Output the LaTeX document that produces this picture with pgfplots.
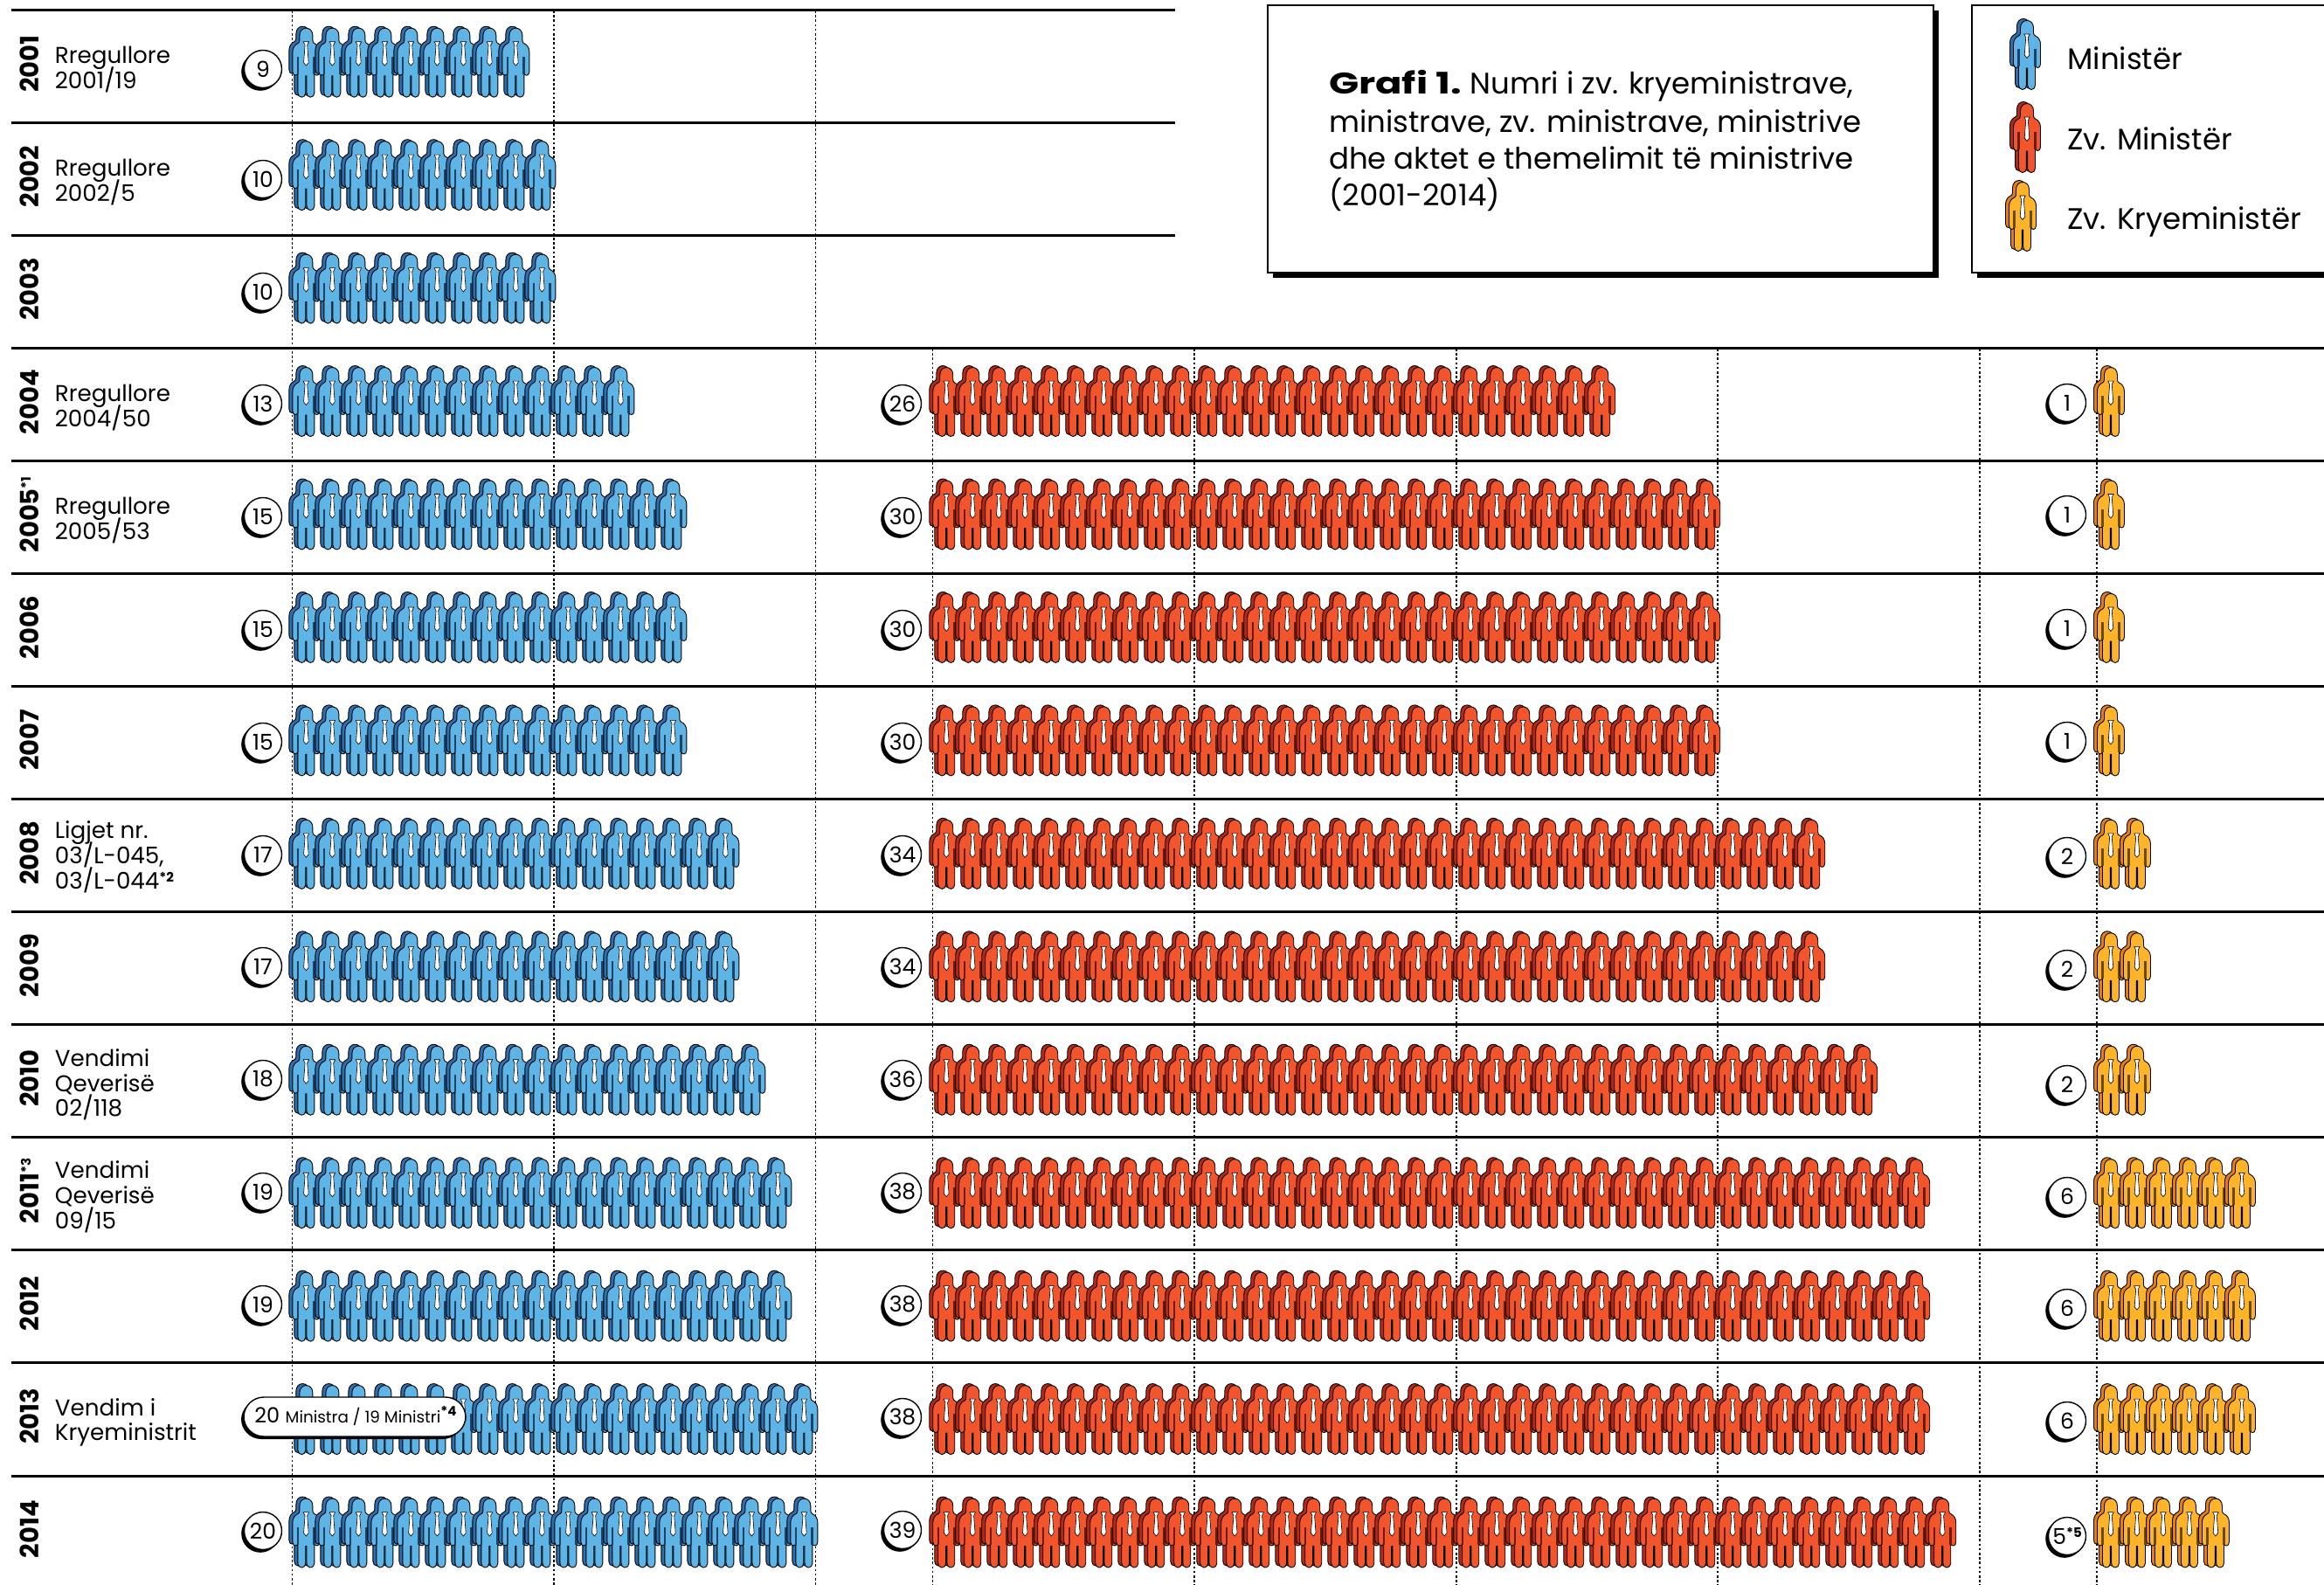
\documentclass[border=0pt]{standalone}
\usepackage{fontspec}
\setmainfont{Poppins}
\usepackage{graphicx}
\usepackage{pgfplots}
\pgfplotsset{compat=1.18}

% colours: body, offset shade, slits between arms and body
\definecolor{minB}{HTML}{5FB4E6}\definecolor{minD}{HTML}{2F6FAE}\definecolor{minS}{HTML}{1D4468}
\definecolor{zmB}{HTML}{F2552B}\definecolor{zmD}{HTML}{B32A12}\definecolor{zmS}{HTML}{6A1C0C}
\definecolor{zkB}{HTML}{FDB42B}\definecolor{zkD}{HTML}{E57F12}\definecolor{zkS}{HTML}{6B4A10}

% one person, 1 unit = 1 px of the reference = 0.5pt
\def\personpath{(-7.5,31) .. controls (-7.5,36.5) and (-4,39.5) .. (0,39.5) .. controls (4,39.5) and (7.5,36.5) .. (7.5,31)
  -- (7.5,25.5) .. controls (7.5,23.5) and (8.5,22.5) .. (9.5,22) .. controls (13,20.5) and (15.5,17) .. (15.5,12)
  -- (15.5,-10) .. controls (15.5,-13) and (14,-14.5) .. (12.5,-14.5) .. controls (11,-14.5) and (9.8,-13.5) .. (9.5,-12)
  -- (9.5,-34.5) .. controls (9.5,-37.5) and (7.5,-39.5) .. (5,-39.5) .. controls (2.6,-39.5) and (0.6,-37.5) .. (0.6,-34.5)
  -- (0.6,-15) -- (-0.6,-15) -- (-0.6,-34.5) .. controls (-0.6,-37.5) and (-2.6,-39.5) .. (-5,-39.5) .. controls (-7.5,-39.5) and (-9.5,-37.5) .. (-9.5,-34.5)
  -- (-9.5,-12) .. controls (-9.8,-13.5) and (-11,-14.5) .. (-12.5,-14.5) .. controls (-14,-14.5) and (-15.5,-13) .. (-15.5,-10)
  -- (-15.5,12) .. controls (-15.5,17) and (-13,20.5) .. (-9.5,22) .. controls (-8.5,22.5) and (-7.5,23.5) .. (-7.5,25.5) -- cycle}
\newcommand\personmark[3]{%
  \begin{scope}[x=0.5pt,y=0.5pt,line width=0.45pt,line join=round]
    \pgfscope
      \pgftransformshift{\pgfpoint{-2pt}{1pt}}
      \draw[draw=black,fill=#2] \personpath;
    \endpgfscope
    \draw[draw=black,fill=#1] \personpath;
    \draw[#3,line width=1.3pt] (9.3,7) -- (9.3,-13) (-9.3,7) -- (-9.3,-13);
    \draw[draw=black,fill=white,line width=0.3pt] (-3.3,24) -- (3.3,24) -- (1.3,20) -- (2.8,0) -- (0,-3.5) -- (-2.8,0) -- (-1.3,20) -- cycle;
  \end{scope}}
\pgfdeclareplotmark{minister}{\personmark{minB}{minD}{minS}}
\pgfdeclareplotmark{zvminister}{\personmark{zmB}{zmD}{zmS}}
\pgfdeclareplotmark{zvkrye}{\personmark{zkB}{zkD}{zkS}}

\pgfplotsset{
  page/.style={hide axis,scale only axis,width=1330pt,height=907pt,at={(0,0)},anchor=south west,y dir=reverse,clip=false},
  pxaxis/.style={page,xmin=0,xmax=2660,ymin=0,ymax=1814},
  % panels: x is the person's number, y the year
  panel/.style={page,ymin=2000.4461,ymax=2014.4593},
  rule/.style={black,line width=1.5pt,forget plot},
  guide/.style={black,line width=0.6pt,dash pattern=on 1.3pt off 1.3pt,forget plot},
}
\tikzset{
  lbl/.style={anchor=base west,inner sep=0pt,yshift=-0.2pt,font=\fontsize{13.1}{16}\selectfont},
  ttl/.style={anchor=base west,inner sep=0pt,font=\fontsize{17}{20}\selectfont},
  yr/.style={rotate=90,inner sep=0pt,font=\fontsize{14.5}{16}\selectfont\bfseries},
  num/.style={circle,draw=black,fill=white,line width=0.7pt,minimum size=21.5pt,inner sep=0pt,font=\fontsize{12.5}{14}\selectfont},
}
\newcommand\fnote[1]{\raisebox{0.32em}{\fontsize{7.5}{8}\selectfont\bfseries *#1}}
\newcommand\badge[3]{\fill[black] (#1,#2) ++(-1.5pt,-1.5pt) circle[radius=10.9pt]; \node[num] at (#1,#2) {#3};}

\begin{document}
\begin{tikzpicture}
\useasboundingbox (0,0) rectangle (1330pt,907pt);

% rules and dashed guides
\begin{axis}[pxaxis]
  \addplot[rule] coordinates {(12.5,11.3)(1345,11.3)};
  \addplot[rule] coordinates {(12.5,140.4)(1345,140.4)};
  \addplot[rule] coordinates {(12.5,269.4)(1345,269.4)};
  \addplot[rule] coordinates {(12.5,398.5)(2660,398.5)};
  \addplot[rule] coordinates {(12.5,527.5)(2660,527.5)};
  \addplot[rule] coordinates {(12.5,656.6)(2660,656.6)};
  \addplot[rule] coordinates {(12.5,785.6)(2660,785.6)};
  \addplot[rule] coordinates {(12.5,914.7)(2660,914.7)};
  \addplot[rule] coordinates {(12.5,1043.7)(2660,1043.7)};
  \addplot[rule] coordinates {(12.5,1172.8)(2660,1172.8)};
  \addplot[rule] coordinates {(12.5,1301.8)(2660,1301.8)};
  \addplot[rule] coordinates {(12.5,1430.9)(2660,1430.9)};
  \addplot[rule] coordinates {(12.5,1559.9)(2660,1559.9)};
  \addplot[rule] coordinates {(12.5,1689)(2660,1689)};
  \addplot[guide] coordinates {(334.4,12)(334.4,1814)};
  \addplot[guide] coordinates {(634,12)(634,1814)};
  \addplot[guide] coordinates {(933.5,12)(933.5,1814)};
  \addplot[guide] coordinates {(1067.3,399)(1067.3,1814)};
  \addplot[guide] coordinates {(1367,399)(1367,1814)};
  \addplot[guide] coordinates {(1667,399)(1667,1814)};
  \addplot[guide] coordinates {(1966,399)(1966,1814)};
  \addplot[guide] coordinates {(2266,399)(2266,1814)};
  \addplot[guide] coordinates {(2400,399)(2400,1814)};
\end{axis}

% Ministër
\begin{axis}[panel,xmin=-10.68,xmax=77.9867]
  \addplot[only marks,mark=minister] coordinates {
    (1,2001)(2,2001)(3,2001)(4,2001)(5,2001)(6,2001)(7,2001)(8,2001)(9,2001)
    (1,2002)(2,2002)(3,2002)(4,2002)(5,2002)(6,2002)(7,2002)(8,2002)(9,2002)(10,2002)
    (1,2003)(2,2003)(3,2003)(4,2003)(5,2003)(6,2003)(7,2003)(8,2003)(9,2003)(10,2003)
    (1,2004)(2,2004)(3,2004)(4,2004)(5,2004)(6,2004)(7,2004)(8,2004)(9,2004)(10,2004)(11,2004)(12,2004)(13,2004)
    (1,2005)(2,2005)(3,2005)(4,2005)(5,2005)(6,2005)(7,2005)(8,2005)(9,2005)(10,2005)(11,2005)(12,2005)(13,2005)(14,2005)(15,2005)
    (1,2006)(2,2006)(3,2006)(4,2006)(5,2006)(6,2006)(7,2006)(8,2006)(9,2006)(10,2006)(11,2006)(12,2006)(13,2006)(14,2006)(15,2006)
    (1,2007)(2,2007)(3,2007)(4,2007)(5,2007)(6,2007)(7,2007)(8,2007)(9,2007)(10,2007)(11,2007)(12,2007)(13,2007)(14,2007)(15,2007)
    (1,2008)(2,2008)(3,2008)(4,2008)(5,2008)(6,2008)(7,2008)(8,2008)(9,2008)(10,2008)(11,2008)(12,2008)(13,2008)(14,2008)(15,2008)(16,2008)(17,2008)
    (1,2009)(2,2009)(3,2009)(4,2009)(5,2009)(6,2009)(7,2009)(8,2009)(9,2009)(10,2009)(11,2009)(12,2009)(13,2009)(14,2009)(15,2009)(16,2009)(17,2009)
    (1,2010)(2,2010)(3,2010)(4,2010)(5,2010)(6,2010)(7,2010)(8,2010)(9,2010)(10,2010)(11,2010)(12,2010)(13,2010)(14,2010)(15,2010)(16,2010)(17,2010)(18,2010)
    (1,2011)(2,2011)(3,2011)(4,2011)(5,2011)(6,2011)(7,2011)(8,2011)(9,2011)(10,2011)(11,2011)(12,2011)(13,2011)(14,2011)(15,2011)(16,2011)(17,2011)(18,2011)(19,2011)
    (1,2012)(2,2012)(3,2012)(4,2012)(5,2012)(6,2012)(7,2012)(8,2012)(9,2012)(10,2012)(11,2012)(12,2012)(13,2012)(14,2012)(15,2012)(16,2012)(17,2012)(18,2012)(19,2012)
    (1,2013)(2,2013)(3,2013)(4,2013)(5,2013)(6,2013)(7,2013)(8,2013)(9,2013)(10,2013)(11,2013)(12,2013)(13,2013)(14,2013)(15,2013)(16,2013)(17,2013)(18,2013)(19,2013)(20,2013)
    (1,2014)(2,2014)(3,2014)(4,2014)(5,2014)(6,2014)(7,2014)(8,2014)(9,2014)(10,2014)(11,2014)(12,2014)(13,2014)(14,2014)(15,2014)(16,2014)(17,2014)(18,2014)(19,2014)(20,2014)
  };
\end{axis}

% Zv. Ministër
\begin{axis}[panel,xmin=-35.11,xmax=53.5567]
  \addplot[only marks,mark=zvminister] coordinates {
    (1,2004)(2,2004)(3,2004)(4,2004)(5,2004)(6,2004)(7,2004)(8,2004)(9,2004)(10,2004)(11,2004)(12,2004)(13,2004)(14,2004)(15,2004)(16,2004)(17,2004)(18,2004)(19,2004)(20,2004)(21,2004)(22,2004)(23,2004)(24,2004)(25,2004)(26,2004)
    (1,2005)(2,2005)(3,2005)(4,2005)(5,2005)(6,2005)(7,2005)(8,2005)(9,2005)(10,2005)(11,2005)(12,2005)(13,2005)(14,2005)(15,2005)(16,2005)(17,2005)(18,2005)(19,2005)(20,2005)(21,2005)(22,2005)(23,2005)(24,2005)(25,2005)(26,2005)(27,2005)(28,2005)(29,2005)(30,2005)
    (1,2006)(2,2006)(3,2006)(4,2006)(5,2006)(6,2006)(7,2006)(8,2006)(9,2006)(10,2006)(11,2006)(12,2006)(13,2006)(14,2006)(15,2006)(16,2006)(17,2006)(18,2006)(19,2006)(20,2006)(21,2006)(22,2006)(23,2006)(24,2006)(25,2006)(26,2006)(27,2006)(28,2006)(29,2006)(30,2006)
    (1,2007)(2,2007)(3,2007)(4,2007)(5,2007)(6,2007)(7,2007)(8,2007)(9,2007)(10,2007)(11,2007)(12,2007)(13,2007)(14,2007)(15,2007)(16,2007)(17,2007)(18,2007)(19,2007)(20,2007)(21,2007)(22,2007)(23,2007)(24,2007)(25,2007)(26,2007)(27,2007)(28,2007)(29,2007)(30,2007)
    (1,2008)(2,2008)(3,2008)(4,2008)(5,2008)(6,2008)(7,2008)(8,2008)(9,2008)(10,2008)(11,2008)(12,2008)(13,2008)(14,2008)(15,2008)(16,2008)(17,2008)(18,2008)(19,2008)(20,2008)(21,2008)(22,2008)(23,2008)(24,2008)(25,2008)(26,2008)(27,2008)(28,2008)(29,2008)(30,2008)(31,2008)(32,2008)(33,2008)(34,2008)
    (1,2009)(2,2009)(3,2009)(4,2009)(5,2009)(6,2009)(7,2009)(8,2009)(9,2009)(10,2009)(11,2009)(12,2009)(13,2009)(14,2009)(15,2009)(16,2009)(17,2009)(18,2009)(19,2009)(20,2009)(21,2009)(22,2009)(23,2009)(24,2009)(25,2009)(26,2009)(27,2009)(28,2009)(29,2009)(30,2009)(31,2009)(32,2009)(33,2009)(34,2009)
    (1,2010)(2,2010)(3,2010)(4,2010)(5,2010)(6,2010)(7,2010)(8,2010)(9,2010)(10,2010)(11,2010)(12,2010)(13,2010)(14,2010)(15,2010)(16,2010)(17,2010)(18,2010)(19,2010)(20,2010)(21,2010)(22,2010)(23,2010)(24,2010)(25,2010)(26,2010)(27,2010)(28,2010)(29,2010)(30,2010)(31,2010)(32,2010)(33,2010)(34,2010)(35,2010)(36,2010)
    (1,2011)(2,2011)(3,2011)(4,2011)(5,2011)(6,2011)(7,2011)(8,2011)(9,2011)(10,2011)(11,2011)(12,2011)(13,2011)(14,2011)(15,2011)(16,2011)(17,2011)(18,2011)(19,2011)(20,2011)(21,2011)(22,2011)(23,2011)(24,2011)(25,2011)(26,2011)(27,2011)(28,2011)(29,2011)(30,2011)(31,2011)(32,2011)(33,2011)(34,2011)(35,2011)(36,2011)(37,2011)(38,2011)
    (1,2012)(2,2012)(3,2012)(4,2012)(5,2012)(6,2012)(7,2012)(8,2012)(9,2012)(10,2012)(11,2012)(12,2012)(13,2012)(14,2012)(15,2012)(16,2012)(17,2012)(18,2012)(19,2012)(20,2012)(21,2012)(22,2012)(23,2012)(24,2012)(25,2012)(26,2012)(27,2012)(28,2012)(29,2012)(30,2012)(31,2012)(32,2012)(33,2012)(34,2012)(35,2012)(36,2012)(37,2012)(38,2012)
    (1,2013)(2,2013)(3,2013)(4,2013)(5,2013)(6,2013)(7,2013)(8,2013)(9,2013)(10,2013)(11,2013)(12,2013)(13,2013)(14,2013)(15,2013)(16,2013)(17,2013)(18,2013)(19,2013)(20,2013)(21,2013)(22,2013)(23,2013)(24,2013)(25,2013)(26,2013)(27,2013)(28,2013)(29,2013)(30,2013)(31,2013)(32,2013)(33,2013)(34,2013)(35,2013)(36,2013)(37,2013)(38,2013)
    (1,2014)(2,2014)(3,2014)(4,2014)(5,2014)(6,2014)(7,2014)(8,2014)(9,2014)(10,2014)(11,2014)(12,2014)(13,2014)(14,2014)(15,2014)(16,2014)(17,2014)(18,2014)(19,2014)(20,2014)(21,2014)(22,2014)(23,2014)(24,2014)(25,2014)(26,2014)(27,2014)(28,2014)(29,2014)(30,2014)(31,2014)(32,2014)(33,2014)(34,2014)(35,2014)(36,2014)(37,2014)(38,2014)(39,2014)
  };
\end{axis}

% Zv. Kryeministër
\begin{axis}[panel,xmin=-79.5333,xmax=9.1333]
  \addplot[only marks,mark=zvkrye] coordinates {
    (1,2004)
    (1,2005)
    (1,2006)
    (1,2007)
    (1,2008)(2,2008)
    (1,2009)(2,2009)
    (1,2010)(2,2010)
    (1,2011)(2,2011)(3,2011)(4,2011)(5,2011)(6,2011)
    (1,2012)(2,2012)(3,2012)(4,2012)(5,2012)(6,2012)
    (1,2013)(2,2013)(3,2013)(4,2013)(5,2013)(6,2013)
    (1,2014)(2,2014)(3,2014)(4,2014)(5,2014)
  };
\end{axis}

% texts, count badges, title box and legend
\begin{axis}[pxaxis]
  \node[yr] at (33.5,73) {2001};
  \node[yr] at (33.5,202) {2002};
  \node[yr] at (33.5,331) {2003};
  \node[yr] at (33.5,460) {2004};
  \node[yr] at (33.5,589) {2005\fnote{1}};
  \node[yr] at (33.5,718) {2006};
  \node[yr] at (33.5,847) {2007};
  \node[yr] at (33.5,976) {2008};
  \node[yr] at (33.5,1105) {2009};
  \node[yr] at (33.5,1234) {2010};
  \node[yr] at (33.5,1363) {2011\fnote{3}};
  \node[yr] at (33.5,1492) {2012};
  \node[yr] at (33.5,1621) {2013};
  \node[yr] at (33.5,1750) {2014};

  \node[lbl] at (62.5,71.7) {Rregullore};
  \node[lbl] at (62.5,100.7) {2001/19};
  \node[lbl] at (62.5,201) {Rregullore};
  \node[lbl] at (62.5,230) {2002/5};
  \node[lbl] at (62.5,459) {Rregullore};
  \node[lbl] at (62.5,488) {2004/50};
  \node[lbl] at (62.5,588) {Rregullore};
  \node[lbl] at (62.5,617) {2005/53};
  \node[lbl] at (62.5,959) {Ligjet nr.};
  \node[lbl] at (62.5,988) {03/L-045,};
  \node[lbl] at (62.5,1017) {03/L-044\fnote{2}};
  \node[lbl] at (62.5,1220) {Vendimi};
  \node[lbl] at (62.5,1249) {Qeverisë};
  \node[lbl] at (62.5,1277) {02/118};
  \node[lbl] at (62.5,1348) {Vendimi};
  \node[lbl] at (62.5,1377) {Qeverisë};
  \node[lbl] at (62.5,1406) {09/15};
  \node[lbl] at (62.5,1620) {Vendim i};
  \node[lbl] at (62.5,1648) {Kryeministrit};

  \badge{301}{79}{9}
  \badge{301}{205}{10}
  \badge{301}{334}{10}
  \badge{301}{462}{13}
  \badge{301}{591}{15}
  \badge{301}{720}{15}
  \badge{301}{849}{15}
  \badge{301}{978}{17}
  \badge{301}{1106}{17}
  \badge{301}{1235}{18}
  \badge{301}{1364}{19}
  \badge{301}{1493}{19}
  \badge{301}{1752}{20}

  \badge{1033}{462}{26}
  \badge{1033}{591}{30}
  \badge{1033}{720}{30}
  \badge{1033}{849}{30}
  \badge{1033}{978}{34}
  \badge{1033}{1106}{34}
  \badge{1033}{1235}{36}
  \badge{1033}{1364}{38}
  \badge{1033}{1493}{38}
  \badge{1033}{1622}{38}
  \badge{1033}{1751}{39}

  \badge{2366}{461}{1}
  \badge{2366}{589}{1}
  \badge{2366}{719}{1}
  \badge{2366}{848}{1}
  \badge{2366}{980}{2}
  \badge{2366}{1109}{2}
  \badge{2366}{1241}{2}
  \badge{2366}{1369}{6}
  \badge{2366}{1497}{6}
  \badge{2366}{1626}{6}
  \badge{2366}{1758}{5\fnote{5}}

  % pill of 2013
  \fill[black,rounded corners=11.5pt] (276,1602) rectangle (530,1647);
  \draw[black,fill=white,line width=0.7pt,rounded corners=11.5pt] (279,1599) rectangle (533,1644);
  \node[anchor=base west,inner sep=0pt,font=\fontsize{12}{14}\selectfont] at (291,1628)
    {20 {\fontsize{9.2}{10}\selectfont Ministra / 19 Ministri}\fnote{4}};

  % title box
  \fill[black] (1457,12) rectangle (2219,318);
  \draw[black,fill=white,line width=1.3pt] (1451,6) rectangle (2213,312);
  \node[ttl] at (1520.6,108) {\scalebox{1.32}[1]{\textbf{Grafi 1.}} Numri i zv. kryeministrave,};
  \node[ttl] at (1520.6,151) {ministrave, zv. ministrave, ministrive};
  \node[ttl] at (1520.6,193) {dhe aktet e themelimit të ministrive};
  \node[ttl] at (1520.6,235) {(2001-2014)};

  % legend box
  \fill[black] (2263,12) rectangle (2670,318);
  \draw[black,fill=white,line width=1.3pt] (2257,6) rectangle (2670,312);
  \addplot[only marks,mark=minister] coordinates {(2320,63)};
  \addplot[only marks,mark=zvminister] coordinates {(2320,158)};
  \addplot[only marks,mark=zvkrye] coordinates {(2315,248)};
  \node[ttl] at (2366,79.5) {Ministër};
  \node[ttl] at (2366,171.5) {Zv. Ministër};
  \node[ttl] at (2366,262) {Zv. Kryeministër};
\end{axis}
\end{tikzpicture}
\end{document}
